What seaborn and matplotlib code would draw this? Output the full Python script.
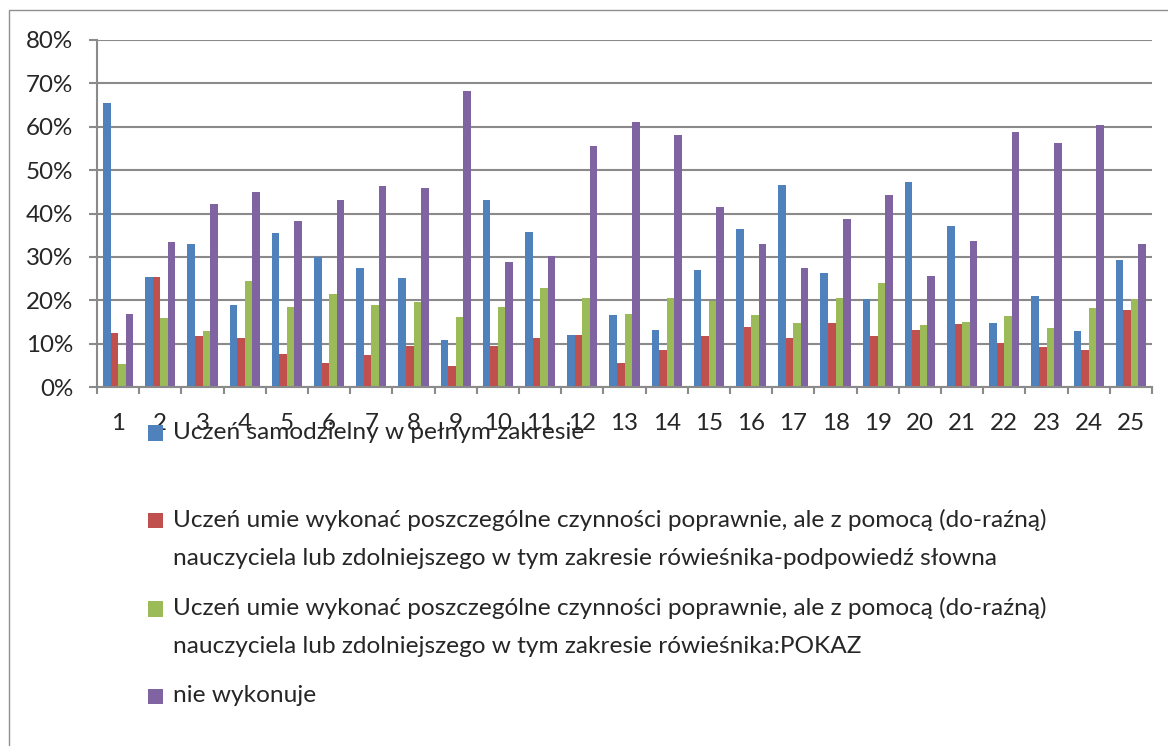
import matplotlib
matplotlib.use("Agg")
import matplotlib.pyplot as plt
import matplotlib.patches as mpatches
from matplotlib.legend_handler import HandlerPatch
from matplotlib.ticker import FixedLocator, FuncFormatter
import seaborn as sns
import pandas as pd

# task numbers on the x axis
tasks = [str(i) for i in range(1, 26)]

series_names = [
    "Uczeń samodzielny w pełnym zakresie",
    "Uczeń umie wykonać poszczególne czynności poprawnie, ale z pomocą (do-raźną)\n"
    "nauczyciela lub zdolniejszego w tym zakresie rówieśnika-podpowiedź słowna",
    "Uczeń umie wykonać poszczególne czynności poprawnie, ale z pomocą (do-raźną)\n"
    "nauczyciela lub zdolniejszego w tym zakresie rówieśnika:POKAZ",
    "nie wykonuje",
]

# percent values
samodzielny = [65.5, 25.3, 33.0, 19.0, 35.6, 30.0, 27.5, 25.2, 10.9, 43.0, 35.7, 12.0, 16.6,
               13.1, 27.0, 36.5, 46.6, 26.2, 20.2, 47.2, 37.1, 14.7, 21.0, 12.8, 29.2]
podpowiedz = [12.5, 25.3, 11.7, 11.4, 7.6, 5.5, 7.4, 9.5, 4.8, 9.5, 11.2, 12.0, 5.5,
              8.5, 11.8, 13.9, 11.2, 14.7, 11.8, 13.1, 14.5, 10.2, 9.2, 8.5, 17.7]
pokaz = [5.2, 15.8, 13.0, 24.5, 18.5, 21.5, 18.8, 19.6, 16.1, 18.5, 22.9, 20.5, 16.9,
         20.5, 19.8, 16.6, 14.7, 20.5, 24.0, 14.2, 15.0, 16.4, 13.7, 18.3, 20.2]
nie_wykonuje = [16.9, 33.5, 42.3, 44.9, 38.2, 43.0, 46.3, 45.8, 68.2, 28.9, 30.3, 55.6, 61.1,
                58.0, 41.4, 33.0, 27.5, 38.7, 44.2, 25.6, 33.6, 58.9, 56.2, 60.5, 33.0]

colors = ["#4F81BD", "#C0504D", "#9BBB59", "#8064A2"]
y_ticks = [0, 10, 20, 30, 40, 50, 60, 70, 80]

rows = []
for name, vals in zip(series_names, [samodzielny, podpowiedz, pokaz, nie_wykonuje]):
    for t, v in zip(tasks, vals):
        rows.append({"task": t, "value": v, "series": name})
df = pd.DataFrame(rows)

sns.set_style("white")
plt.rcParams["font.family"] = ["Lato", "DejaVu Sans"]
FS = 17.4
LEG_FS = 17.6
GRID = "#8a8a8a"

fig = plt.figure(figsize=(11.68, 7.46), dpi=100)
ax = fig.add_axes([97 / 1168, 1 - 387 / 746, (1152 - 97) / 1168, (387 - 40) / 746])

sns.barplot(data=df, x="task", y="value", hue="series", palette=colors,
            width=0.72, ax=ax, errorbar=None, linewidth=0, saturation=1)

ax.set_xlim(-0.5, len(tasks) - 0.5)
ax.set_ylim(0, 80)
ax.set_xlabel("")
ax.set_ylabel("")
ax.yaxis.set_major_locator(FixedLocator(y_ticks))
ax.yaxis.set_major_formatter(FuncFormatter(lambda v, p: f"{v:.0f}%"))
ax.set_axisbelow(True)
ax.yaxis.grid(True, color=GRID, linewidth=1.5)

for side in ["top", "right"]:
    ax.spines[side].set_visible(False)
for side in ["left", "bottom"]:
    ax.spines[side].set_color(GRID)
    ax.spines[side].set_linewidth(1.5)

ax.tick_params(axis="y", direction="out", length=6, width=1.5, color=GRID,
               pad=11, labelsize=FS, left=True)
ax.tick_params(axis="x", which="major", length=0, pad=19, labelsize=FS)
ax.set_xticks([i - 0.5 for i in range(len(tasks) + 1)], minor=True)
ax.tick_params(axis="x", which="minor", direction="out", length=5, width=1.5,
               color=GRID, bottom=True)

# legend: square marker on first line of each entry (excel style)
handles, labels = ax.get_legend_handles_labels()
ax.get_legend().remove()
labels = [l if "\n" in l else l + "\n" for l in labels]


def top_square(legend, orig_handle, xdescent, ydescent, width, height, fontsize):
    return mpatches.Rectangle((-xdescent, -ydescent + 13), width, height)


leg = fig.legend(handles, labels, loc="upper left",
                 bbox_to_anchor=(148 / 1168, 1 - 422 / 746), frameon=False,
                 fontsize=LEG_FS, handlelength=0.6, handleheight=0.6,
                 handletextpad=0.42, borderpad=0, borderaxespad=0, labelspacing=1.17,
                 handler_map={mpatches.Rectangle: HandlerPatch(patch_func=top_square)})
for t in leg.get_texts():
    t.set_linespacing(1.97)

# outer chart frame
fig.add_artist(mpatches.Rectangle((9 / 1168, -0.5), 2, 0.5 + 1 - 10 / 746, fill=False,
                                  edgecolor="#8f8f8f", linewidth=1,
                                  transform=fig.transFigure))

fig.savefig("out.png", dpi=100)
